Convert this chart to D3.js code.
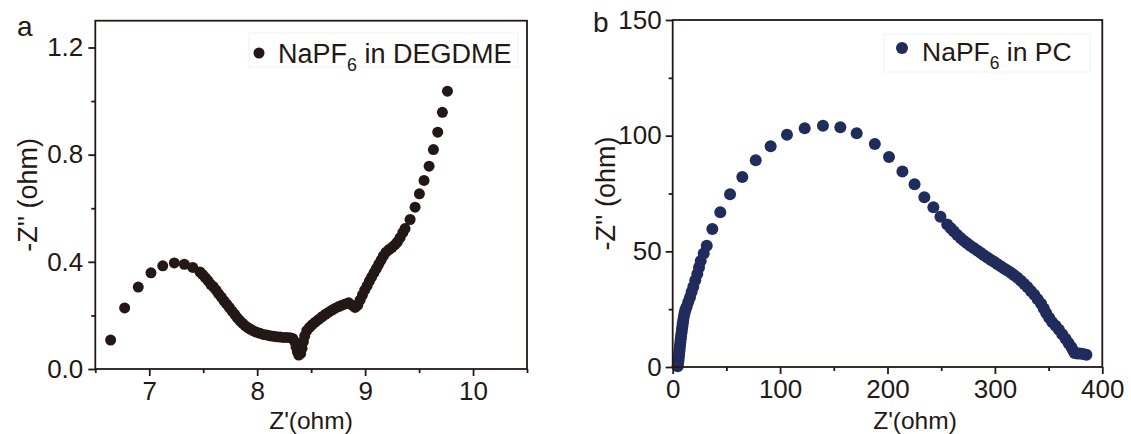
<!DOCTYPE html>
<html><head><meta charset="utf-8">
<script src="https://cdn.jsdelivr.net/npm/d3@7"></script>
<style>
body{margin:0;background:#fff}
svg{display:block}
text{font-family:"Liberation Sans",Arial,Helvetica,sans-serif;fill:#231815}
</style>
</head><body>
<svg id="c" width="1131" height="434"></svg>
<script>
// Panel a: NaPF6 in DEGDME
const aZre=[6.642,6.772,6.898,7.016,7.125,7.232,7.325,7.403,7.470,
7.495,7.520,7.545,7.569,7.594,7.619,7.643,7.668,7.693,7.717,7.742,7.767,7.792,7.816,7.841,7.866,7.890,7.915,7.940,7.965,7.996,8.026,8.057,8.088,8.119,8.150,8.181,8.212,8.243,8.274,8.304,8.329,
8.348,8.360,8.372,8.385,8.403,8.416,8.428,8.440,8.459,
8.484,8.508,8.539,8.570,8.601,8.632,8.663,8.694,8.725,8.756,8.786,8.817,8.848,8.879,8.907,8.932,8.953,8.975,8.996,9.018,9.040,9.061,9.083,9.104,9.126,9.148,9.169,9.194,9.222,9.250,9.275,9.299,9.324,9.349,9.370,
9.417,9.463,9.503,9.546,9.593,9.633,9.673,9.716,9.763];
const aZim=[0.108,0.228,0.306,0.359,0.385,0.396,0.391,0.379,0.362,
0.352,0.341,0.329,0.316,0.307,0.294,0.280,0.268,0.254,0.242,0.230,0.216,0.204,0.191,0.180,0.170,0.161,0.154,0.148,0.142,0.137,0.133,0.129,0.127,0.124,0.122,0.120,0.119,0.118,0.118,0.117,0.114,
0.102,0.083,0.065,0.052,0.058,0.077,0.102,0.123,0.143,
0.155,0.165,0.175,0.185,0.195,0.204,0.212,0.220,0.227,0.233,0.238,0.243,0.247,0.238,0.230,0.238,0.257,0.276,0.294,0.310,0.328,0.344,0.360,0.375,0.391,0.406,0.422,0.436,0.446,0.454,0.463,0.474,0.490,0.509,0.524,
0.558,0.604,0.654,0.704,0.757,0.819,0.884,0.958,1.037];

// Panel b: NaPF6 in PC
const bZre=[4.6,5.0,5.3,5.6,5.9,6.2,6.5,6.8,7.1,7.4,7.8,8.2,8.6,9.0,9.4,9.9,10.5,11.2,12.0,13.0,14.5,16.1,17.6,19.2,21.0,22.9,24.5,26.1,28.9,31.7,36.9,44.3,53.4,64.8,77.3,91.2,106.4,122.9,139.9,156.1,171.3,188.2,201.4,213.9,225.2,234.3,242.7,249.3,255.6,259.0,261.8,265.0,268.1,271.0,274.1,277.0,280.3,283.5,286.6,289.8,292.9,296.0,299.1,302.2,305.4,308.5,311.6,314.8,317.9,321.0,324.2,327.3,330.4,333.5,336.7,339.8,343.0,345.5,347.7,350.5,353.3,356.5,359.6,362.7,365.8,368.5,371.1,373.0,374.3,376.5,379.0,382.0,385.2];
const bZim=[0.3,1.5,2.8,4.1,5.4,6.7,8.0,9.3,10.6,11.9,13.3,14.7,16.1,17.5,18.9,20.4,22.0,23.6,25.0,26.1,28.1,30.1,32.4,34.7,37.5,40.2,43.0,45.8,49.1,52.4,59.7,66.9,74.7,82.1,89.4,95.4,100.4,103.2,104.3,103.6,101.0,96.4,90.8,84.5,79.0,73.4,69.1,65.0,61.6,60.0,58.6,57.1,55.8,54.6,53.5,52.4,51.4,50.4,49.4,48.3,47.3,46.4,45.5,44.5,43.6,42.6,41.7,40.7,39.7,38.6,37.3,35.9,34.5,32.9,31.2,29.3,27.3,25.3,23.3,21.3,19.4,17.8,16.1,14.2,12.2,10.4,8.6,7.0,6.0,5.8,5.8,5.6,5.3];

const aXTicks=[7,8,9,10], aXMinor=[6.5,7.5,8.5,9.5,10.5];
const aYTicks=[0,0.4,0.8,1.2], aYMinor=[0.2,0.6,1.0];
const bXTicks=[0,100,200,300,400], bXMinor=[50,150,250,350];
const bYTicks=[0,50,100,150], bYMinor=[25,75,125];

const ink="#231815";
const svg=d3.select("#c");

function panel(o){
  const g=svg.append("g");
  const x=d3.scaleLinear().domain(o.xd).range([o.l,o.r]);
  const y=d3.scaleLinear().domain(o.yd).range([o.b,o.t]);
  g.append("g").selectAll("circle").data(o.xs.map((v,i)=>[v,o.ys[i]])).join("circle")
    .attr("cx",d=>x(d[0])).attr("cy",d=>y(d[1])).attr("r",o.rad).attr("fill",o.color);
  g.append("rect").attr("x",o.l).attr("y",o.t).attr("width",o.r-o.l).attr("height",o.b-o.t)
    .attr("fill","none").attr("stroke",ink).attr("stroke-width",1.8);
  const style=a=>{a.attr("font-size",26).attr("font-family",null);
    a.select(".domain").remove();
    a.selectAll("line").attr("stroke",ink).attr("stroke-width",1.8);
    a.selectAll("text").attr("fill",ink);};
  g.append("g").attr("transform",`translate(0,${o.b})`)
    .call(d3.axisBottom(x).tickValues(o.xt).tickSize(7).tickPadding(6).tickFormat(o.xf)).call(style);
  g.append("g").attr("transform",`translate(0,${o.b})`)
    .call(d3.axisBottom(x).tickValues(o.xm).tickSize(4).tickFormat("")).call(style);
  g.append("g").attr("transform",`translate(${o.l},0)`)
    .call(d3.axisLeft(y).tickValues(o.yt).tickSize(7).tickPadding(o.yp).tickFormat(o.yf)).call(style);
  g.append("g").attr("transform",`translate(${o.l},0)`)
    .call(d3.axisLeft(y).tickValues(o.ym).tickSize(4).tickFormat("")).call(style);
  g.append("text").attr("x",o.xtx).attr("y",428.5).attr("text-anchor","middle").attr("font-size",24.5).text("Z'(ohm)");
  g.append("text").attr("transform",`translate(${o.ytx},${(o.t+o.b)/2}) rotate(-90)`).attr("text-anchor","middle").attr("font-size",27).text("-Z'' (ohm)");
  g.append("text").attr("x",o.lx).attr("y",o.ly).attr("font-size",28).text(o.letter);
  g.append("rect").attr("x",o.lb[0]).attr("y",o.lb[1]).attr("width",o.lb[2]).attr("height",o.lb[3])
    .attr("fill","none").attr("stroke","#f2f2f2").attr("stroke-width",1);
  g.append("circle").attr("cx",o.ld[0]).attr("cy",o.ld[1]).attr("r",o.rad).attr("fill",o.color);
  const t=g.append("text").attr("x",o.lt[0]).attr("y",o.lt[1]).attr("font-size",o.lf);
  t.append("tspan").text("NaPF");
  t.append("tspan").attr("font-size",o.lf*0.66).attr("dy",8).text("6");
  t.append("tspan").attr("dy",-8).text(" in "+o.solvent);
}

panel({l:95.3,r:527,t:20.7,b:369,xd:[6.5,10.5],yd:[0,1.3],xs:aZre,ys:aZim,color:"#231815",rad:5.5,
  xt:aXTicks,xm:aXMinor,yt:aYTicks,ym:aYMinor,xf:d3.format("d"),yf:d3.format(".1f"),yp:5,
  xtx:311,ytx:37,letter:"a",lx:17,ly:36,lb:[249,33,269,34],ld:[259,53],lt:[278,63],lf:27,solvent:"DEGDME"});
panel({l:672.7,r:1102.3,t:20,b:367,xd:[0,400],yd:[0,150],xs:bZre,ys:bZim,color:"#1f2c5c",rad:6,
  xt:bXTicks,xm:bXMinor,yt:bYTicks,ym:bYMinor,xf:d3.format("d"),yf:d3.format("d"),yp:4,
  xtx:915,ytx:615,letter:"b",lx:593,ly:32,lb:[884,34,206,38],ld:[902,48],lt:[922,61],lf:26.5,solvent:"PC"});
</script>
</body></html>
